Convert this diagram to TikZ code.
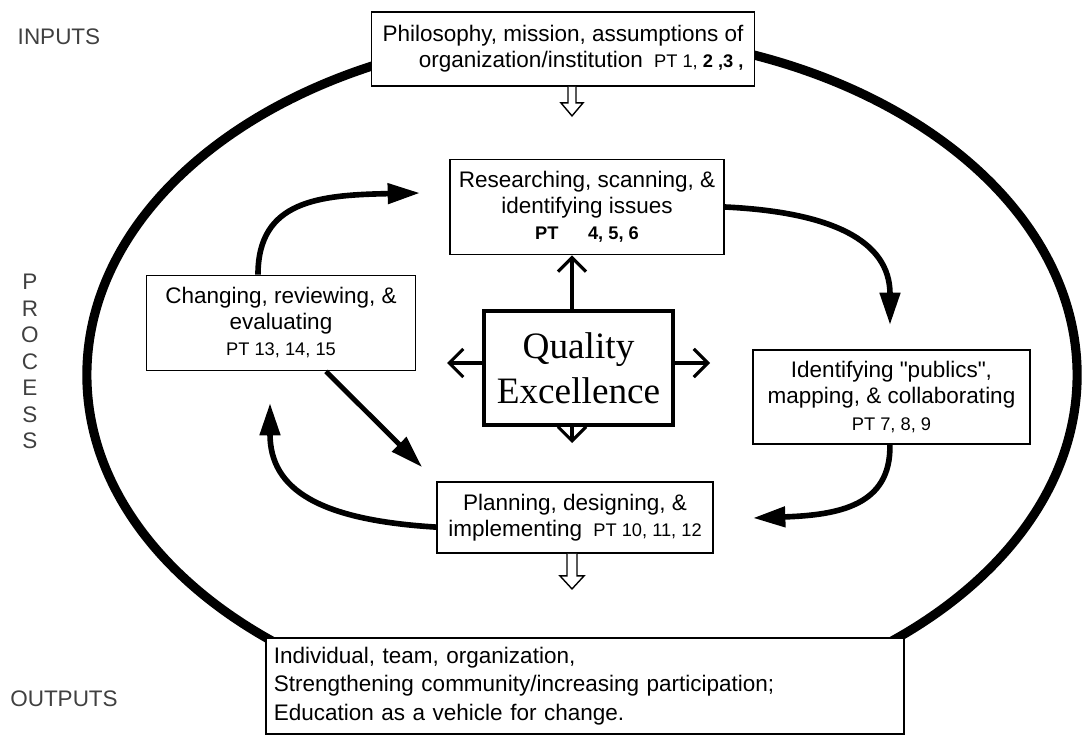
\documentclass[tikz,border=0pt]{standalone}
\usepackage{fontspec}
\setmainfont{Liberation Sans}[Ligatures=TeXOff]
\newfontfamily\qefont{Liberation Serif}
\usetikzlibrary{arrows.meta}
\newcommand\boxsize{\fontsize{16}{18.5}\selectfont}
\newcommand\ptsize{\fontsize{13}{15}\selectfont}
\begin{document}
\begin{tikzpicture}[x=0.025cm,y=-0.025cm,
  box/.style={draw, line width=1.3pt, fill=white, align=center, inner sep=0pt, font=\boxsize},
  qebox/.style={draw, line width=2.4pt, fill=white, align=center, inner sep=0pt, font=\qefont\fontsize{26.5}{32}\selectfont},
  sidelabel/.style={font=\fontsize{16}{18.85}\selectfont, text=black!75, inner sep=0pt},
  thinarr/.style={line width=2.2pt, -{Straight Barb[length=10pt,width=20pt]}},
  bigarr/.style={line width=4pt, -{Triangle[length=23pt,width=14pt]}},
  hollow/.style={line width=1pt, fill=white},
  ring/.style={line width=6.5pt}]
\useasboundingbox (0,0) rectangle (1086,736);
% outer ring
\coordinate (ec) at (582,375);
\draw[ring] (ec) ellipse [x radius=12.375cm, y radius=8.525cm];
% side labels
\node[sidelabel] (inp) at (59,37) {INPUTS};
\node[sidelabel, align=center] (proc) at (30,361.5) {P\\R\\O\\C\\E\\S\\S};
\node[sidelabel] (outp) at (64,699) {OUTPUTS};
% boxes
\node[box, minimum width=9.575cm, minimum height=1.85cm, align=right] (top) at (563,49)
  {Philosophy, mission, assumptions of\\organization/institution\enspace{\ptsize PT 1, \textbf{2 ,3 ,}}};
\node[box, minimum width=6.85cm, minimum height=2.375cm] (R) at (587,207)
  {Researching, scanning, \&\\identifying issues\\{\ptsize\bfseries PT\hspace{21pt}4, 5, 6}};
\node[box, minimum width=6.725cm, minimum height=2.375cm] (C) at (281,323)
  {Changing, reviewing, \&\\evaluating\\{\ptsize PT 13, 14, 15}};
\node[qebox, minimum width=4.725cm, minimum height=2.85cm] (Q) at (578.5,368)
  {Quality\\Excellence};
\node[box, minimum width=6.925cm, minimum height=2.35cm] (I) at (891.5,397)
  {Identifying "publics",\\mapping, \& collaborating\\{\ptsize PT 7, 8, 9}};
\node[box, minimum width=6.9cm, minimum height=1.775cm] (P) at (575,517.5)
  {Planning, designing, \&\\implementing\enspace{\ptsize PT 10, 11, 12}};
\node[box, text width=15.55cm, inner xsep=0.2cm, minimum height=2.4cm, align=left,
  font=\fontsize{16}{20.3}\selectfont] (O) at (585,686)
  {Individual, team, organization,\\Strengthening community/increasing participation;\\Education as a vehicle for change.};
% thin arrows from Quality Excellence
\coordinate (qx) at (572,0);
\coordinate (qy) at (0,363);
\coordinate (lt) at (447,363);
\coordinate (rt) at (710,363);
\coordinate (dn) at (572,443);
\draw[thinarr] (Q.north -| qx) -- (R.south -| qx);
\draw[thinarr] (Q.west |- qy) -- (lt);
\draw[thinarr] (Q.east |- qy) -- (rt);
\draw[thinarr] (Q.south -| qx) -- (dn);
% hollow arrows
\draw[hollow] (top.south -| qx) ++(-4,0) -- ++(0,16) -- ++(-7,0) -- ++(11,13) -- ++(11,-13) -- ++(-7,0) -- ++(0,-16);
\draw[hollow] (P.south -| qx) ++(-5,0) -- ++(0,22) -- ++(-7,0) -- ++(12,13) -- ++(12,-13) -- ++(-7,0) -- ++(0,-22);
% big cycle arrows
\coordinate (a1) at (420,193);
\coordinate (a2) at (890,325);
\coordinate (a3) at (753,518);
\coordinate (a4) at (270,403);
\coordinate (a5) at (422,467);
\draw[bigarr] ([xshift=-0.575cm]C.north) .. controls (258,200) and (320,195) .. (a1);
\draw[bigarr] (R.east) .. controls (830,212) and (890,240) .. (a2);
\draw[bigarr] ([xshift=-0.04cm]I.south) .. controls (891,505) and (840,515) .. (a3);
\draw[bigarr] ([yshift=-0.24cm]P.west) .. controls (320,520) and (270,490) .. (a4);
\draw[bigarr, line width=3.5pt] ([xshift=1.125cm]C.south) -- (a5);
\end{tikzpicture}
\end{document}
